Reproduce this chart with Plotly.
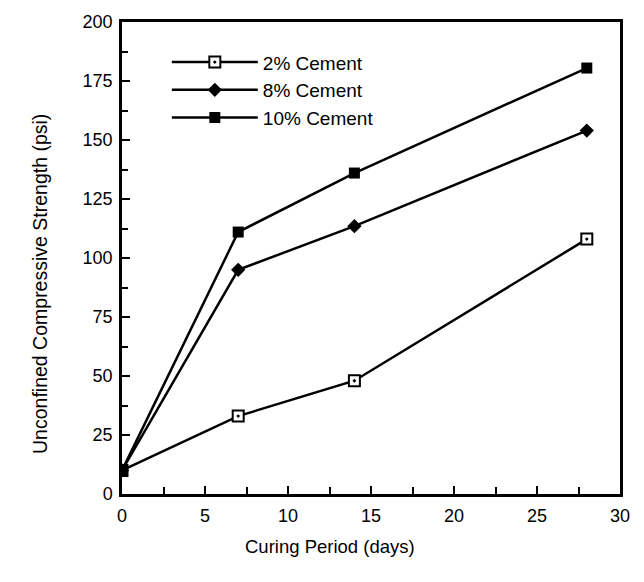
import plotly.graph_objects as go

days = [0, 7, 14, 28]
cement_2 = [10, 33, 48, 108]
cement_8 = [10, 95, 113.5, 154]
cement_10 = [10, 111, 136, 180.5]
series_names = ["2% Cement", "8% Cement", "10% Cement"]

FONT = "Liberation Sans, Arial, Helvetica, sans-serif"

fig = go.Figure()
styles = [
    dict(symbol="square-dot", size=11, color="white", line=dict(width=2, color="black")),
    dict(symbol="diamond", size=11, color="black"),
    dict(symbol="square", size=11, color="black"),
]
for name, vals, mk in zip(series_names, [cement_2, cement_8, cement_10], styles):
    fig.add_trace(go.Scatter(
        x=days, y=vals, name=name, mode="lines+markers",
        line=dict(color="black", width=2.5),
        marker=mk,
    ))

fig.update_layout(
    width=644, height=582,
    margin=dict(l=122, r=24, t=15, b=88),
    paper_bgcolor="white", plot_bgcolor="white",
    font=dict(family=FONT, size=18, color="black"),
    showlegend=True,
    legend=dict(x=0.09, y=0.955, xanchor="left", yanchor="top",
                bgcolor="rgba(0,0,0,0)", itemwidth=86, tracegroupgap=0,
                font=dict(size=19, family=FONT)),
    xaxis=dict(range=[0, 30], tickvals=[0, 5, 10, 15, 20, 25, 30],
               ticks="inside", ticklen=8, tickwidth=2, tickcolor="black",
               minor=dict(dtick=2.5, ticks="inside", ticklen=7, tickwidth=2, tickcolor="black"),
               showline=True, linewidth=2.5, linecolor="black", mirror=True,
               showgrid=False, zeroline=False, ticklabelstandoff=4,
               tickfont=dict(size=18)),
    yaxis=dict(range=[0, 200], tickvals=[0, 25, 50, 75, 100, 125, 150, 175, 200],
               ticks="inside", ticklen=8, tickwidth=2, tickcolor="black",
               minor=dict(dtick=12.5, ticks="inside", ticklen=6, tickwidth=2, tickcolor="black"),
               showline=True, linewidth=2.5, linecolor="black", mirror=True,
               showgrid=False, zeroline=False, ticklabelstandoff=3,
               tickfont=dict(size=18)),
    annotations=[
        dict(text="Curing Period (days)", xref="paper", yref="paper",
             x=(330 - 122) / 498, y=-(547 - 494) / 479, showarrow=False,
             xanchor="center", yanchor="middle", font=dict(size=18.5)),
        dict(text="Unconfined Compressive Strength (psi)", xref="paper", yref="paper",
             x=-(122 - 40) / 498, y=0.445, showarrow=False, textangle=-90,
             xanchor="center", yanchor="middle", font=dict(size=19.5)),
    ],
)

fig.write_html("out.html")
